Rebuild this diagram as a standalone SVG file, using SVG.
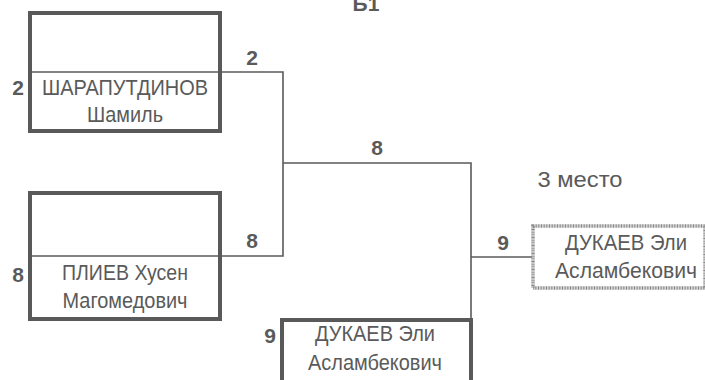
<svg xmlns="http://www.w3.org/2000/svg" width="705" height="380" viewBox="0 0 705 380">
<style>
.box{fill:#fff;stroke:#595959;stroke-width:4}
.boxl{fill:#fff;stroke:#8a8a8a;stroke-width:3.5;stroke-dasharray:1 0.6}
.div{stroke:#595959;stroke-width:1.6}
.ln{fill:none;stroke:#5a5a5a;stroke-width:1.6}
.nm{font-family:"Liberation Sans",Arial,sans-serif;font-size:22.5px;fill:#5a5a5a;text-anchor:middle}
.sc{font-family:"Liberation Sans",Arial,sans-serif;font-size:21px;font-weight:bold;fill:#5a5a5a;text-anchor:middle}
</style>
<rect width="705" height="380" fill="#fff"/>
<text x="366" y="11" class="sc" font-size="24">Б1</text>
<g id="connectors">
<polyline class="ln" points="220,72 283,72 283,256 221,256"/>
<polyline class="ln" points="283,163 471,163 471,319"/>
<line class="ln" x1="471" y1="257" x2="532" y2="257"/>
</g>
<g id="n1">
<rect class="box" x="30" y="13" width="190" height="118"/>
<line class="div" x1="30" y1="72" x2="220" y2="72"/>
<text x="125" y="95" class="nm" textLength="166" lengthAdjust="spacingAndGlyphs">ШАРАПУТДИНОВ</text>
<text x="125" y="122" class="nm" textLength="76" lengthAdjust="spacingAndGlyphs">Шамиль</text>
<text x="18" y="95" class="sc">2</text>
</g>
<g id="n2">
<rect class="box" x="30" y="193" width="190" height="126"/>
<line class="div" x1="30" y1="256" x2="220" y2="256"/>
<text x="125" y="280" class="nm" textLength="126" lengthAdjust="spacingAndGlyphs">ПЛИЕВ Хусен</text>
<text x="125" y="308" class="nm" textLength="125" lengthAdjust="spacingAndGlyphs">Магомедович</text>
<text x="18" y="282" class="sc">8</text>
</g>
<g id="n3">
<rect class="box" x="282" y="320" width="189" height="70"/>
<text x="375" y="341" class="nm" textLength="120" lengthAdjust="spacingAndGlyphs">ДУКАЕВ Эли</text>
<text x="375" y="370" class="nm" textLength="134" lengthAdjust="spacingAndGlyphs">Асламбекович</text>
<text x="270" y="343" class="sc">9</text>
</g>
<g id="n4">
<rect class="boxl" x="533" y="226" width="172" height="62"/>
<text x="626" y="250" class="nm" textLength="122" lengthAdjust="spacingAndGlyphs">ДУКАЕВ Эли</text>
<text x="626" y="278" class="nm" textLength="142" lengthAdjust="spacingAndGlyphs">Асламбекович</text>
</g>
<g id="labels">
<text x="252" y="65" class="sc">2</text>
<text x="252" y="248" class="sc">8</text>
<text x="377" y="155" class="sc">8</text>
<text x="503" y="250" class="sc">9</text>
<text x="580" y="187" class="nm" textLength="85" lengthAdjust="spacingAndGlyphs">3 место</text>
</g>
</svg>
